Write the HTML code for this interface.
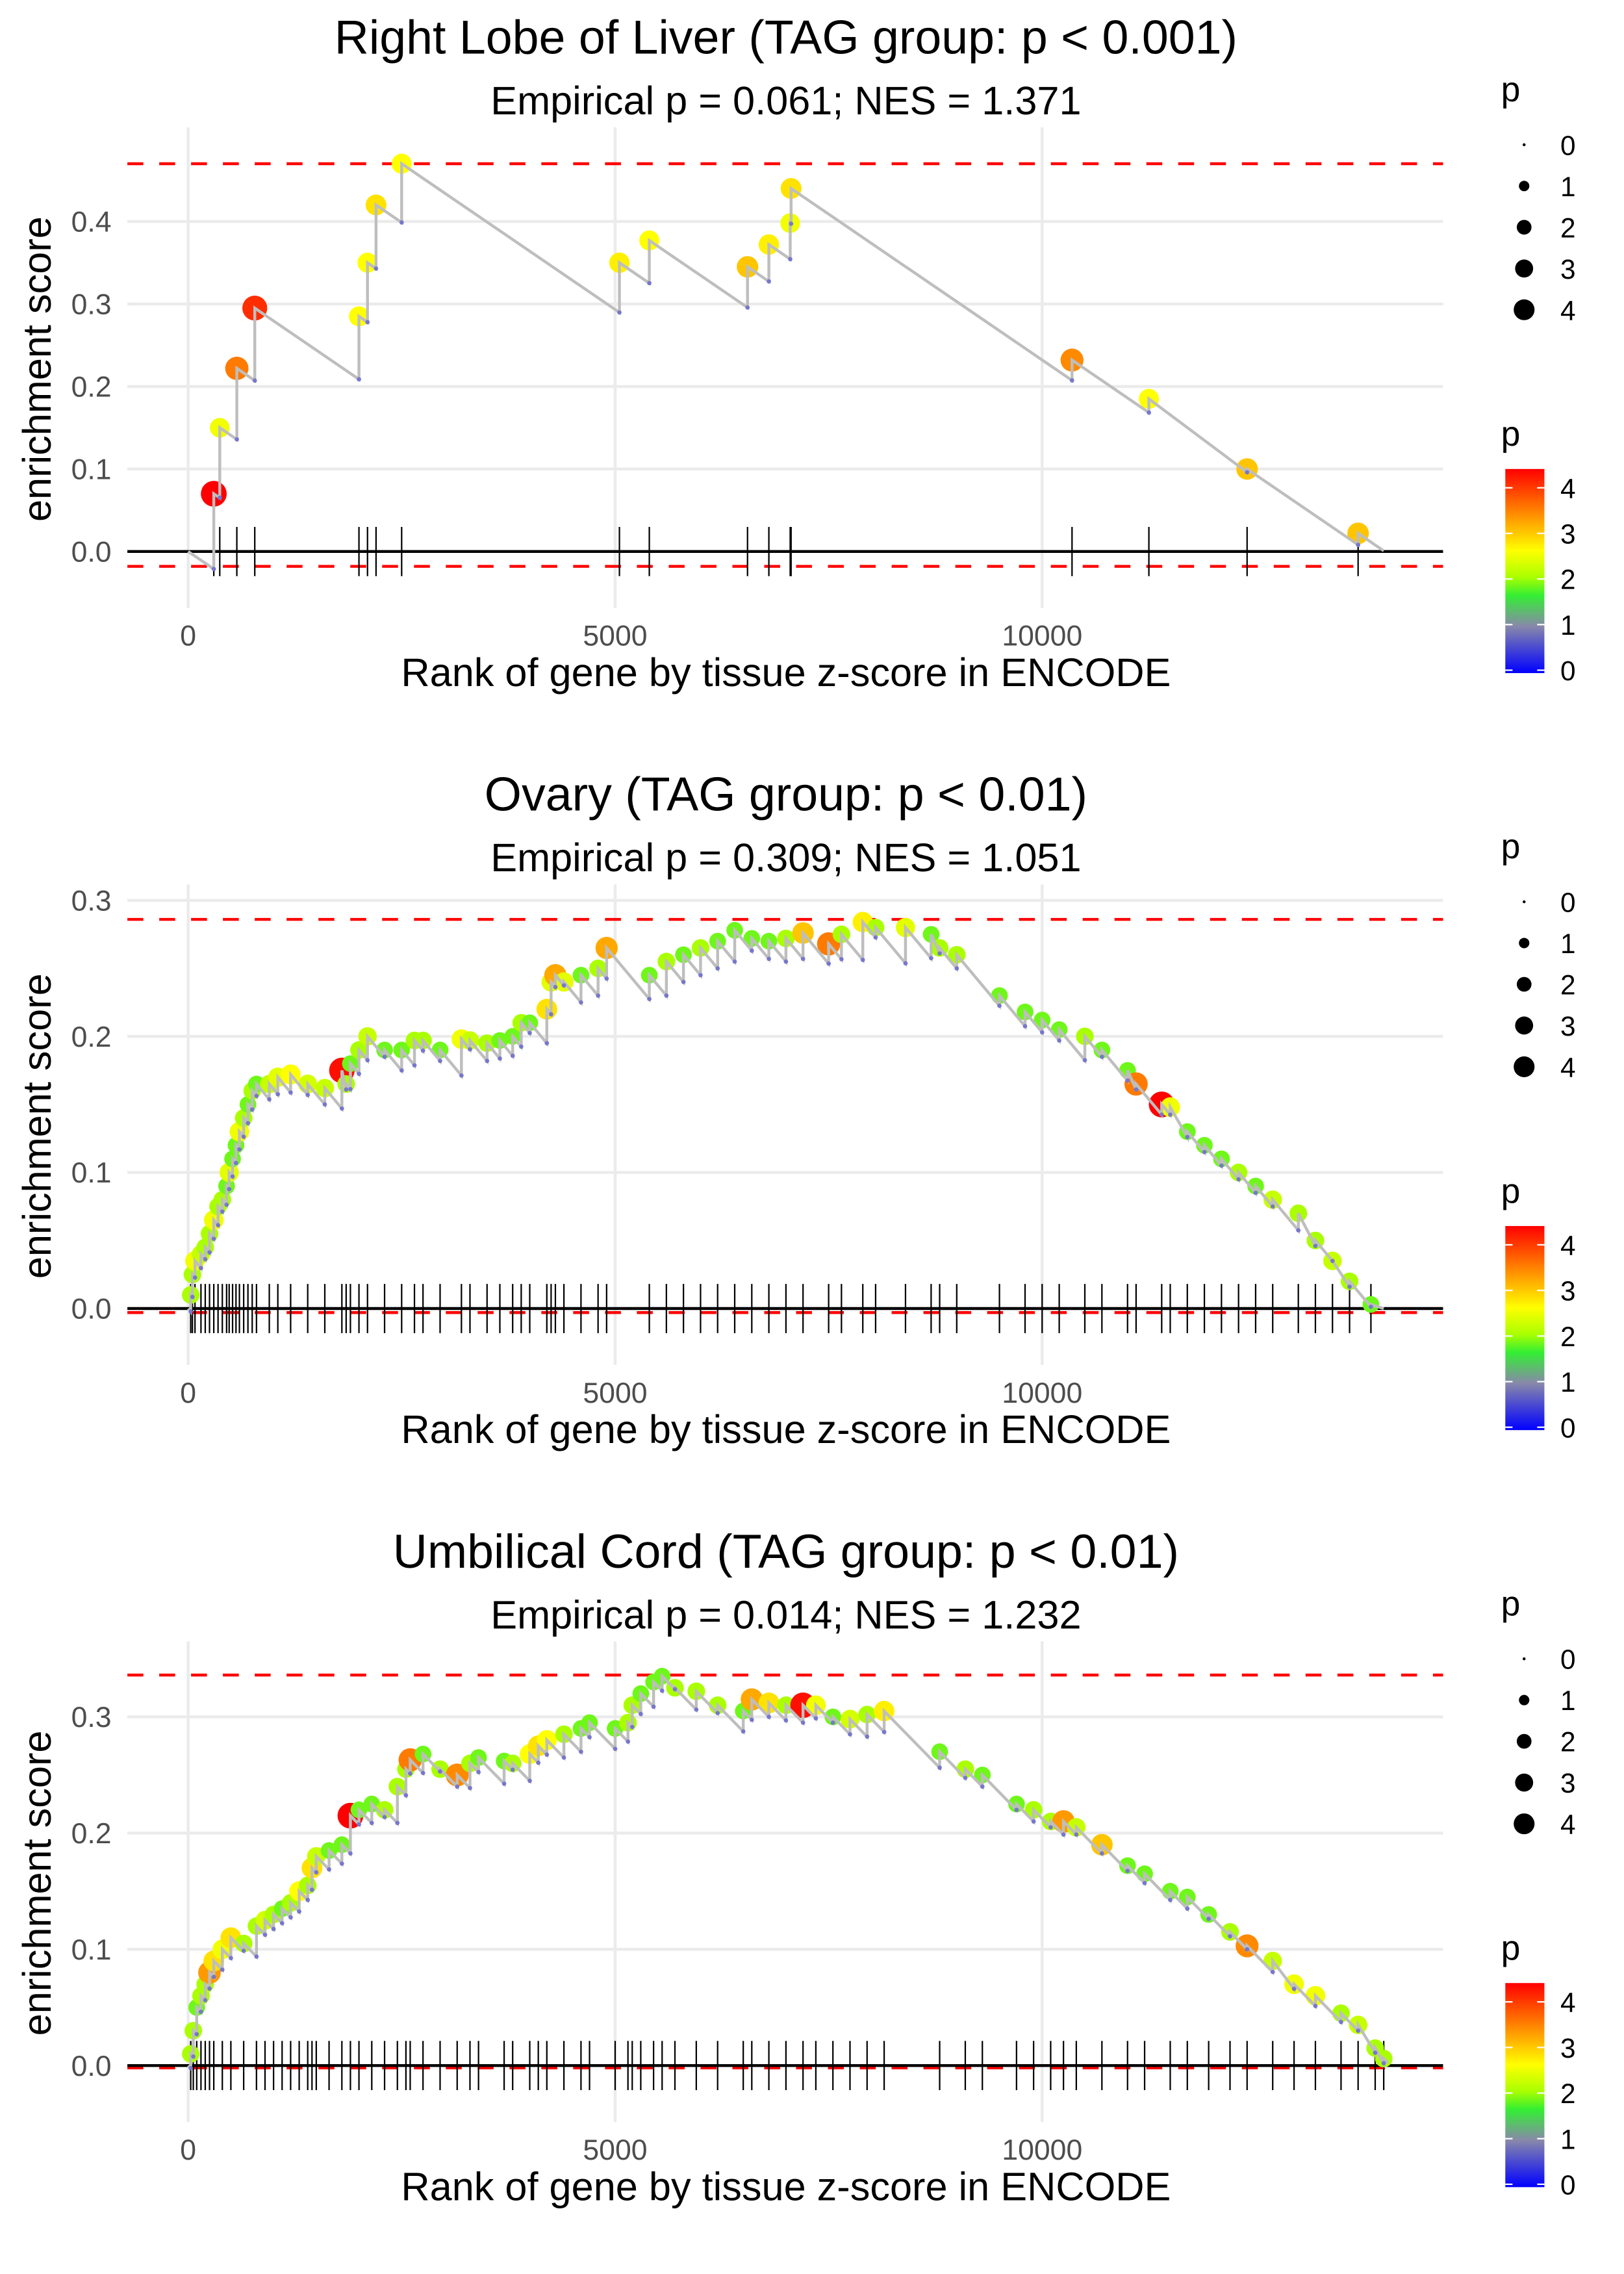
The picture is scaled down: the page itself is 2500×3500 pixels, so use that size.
<!DOCTYPE html>
<html><head><meta charset="utf-8">
<style>
html,body{margin:0;padding:0;background:#fff;}
svg{display:block;font-family:"Liberation Sans",Arial,sans-serif;}
</style></head>
<body>
<svg id="chart" width="2500" height="3500" viewBox="0 0 1122 1571" preserveAspectRatio="none" xmlns="http://www.w3.org/2000/svg">
<defs>
<linearGradient id="pgrad" x1="0" y1="1" x2="0" y2="0">
<stop offset="0" stop-color="#0000ff"/>
<stop offset="0.23" stop-color="#8888aa"/>
<stop offset="0.38" stop-color="#33ee33"/>
<stop offset="0.47" stop-color="#aaff00"/>
<stop offset="0.6" stop-color="#ffff00"/>
<stop offset="0.76" stop-color="#ff9900"/>
<stop offset="1" stop-color="#ff0000"/>
</linearGradient>
</defs>
</svg>
<script>
// ---- Panel 1 data ----
const ranks1 = [300,370,570,780,2000,2100,2200,2500,5050,5400,6550,6800,7050,7060,10350,11250,12400,13700];
const es1    = [0.07,0.15,0.222,0.295,0.285,0.35,0.42,0.47,0.35,0.377,0.345,0.372,0.398,0.44,0.232,0.185,0.1,0.022];
const p1     = [4.3,2.5,3.5,4.0,2.6,2.6,2.8,2.6,2.7,2.6,3.0,2.7,2.5,2.8,3.4,2.6,3.0,3.0];
const yTicks1 = [0,0.1,0.2,0.3,0.4];
// ---- Panel 2 data ----
const ranks2 = [30,50,80,150,200,250,300,350,400,450,480,520,560,600,650,700,750,800,950,1050,1200,1400,1600,1800,1850,1900,2000,2100,2300,2500,2650,2750,2950,3200,3300,3500,3650,3800,3900,4000,4200,4250,4300,4400,4600,4800,4900,5400,5600,5800,6000,6200,6400,6600,6800,7000,7200,7500,7650,7900,8050,8400,8700,8800,9000,9500,9800,10000,10200,10500,10700,11000,11100,11400,11500,11700,11900,12100,12300,12500,12700,13000,13200,13400,13600,13850];
const es2    = [0.01,0.025,0.035,0.04,0.045,0.055,0.065,0.075,0.08,0.09,0.1,0.11,0.12,0.13,0.14,0.15,0.16,0.165,0.165,0.17,0.172,0.165,0.162,0.175,0.165,0.18,0.19,0.2,0.19,0.19,0.197,0.197,0.19,0.198,0.197,0.195,0.197,0.2,0.21,0.21,0.22,0.24,0.245,0.24,0.245,0.25,0.265,0.245,0.255,0.26,0.265,0.27,0.278,0.272,0.27,0.272,0.276,0.268,0.275,0.284,0.28,0.28,0.275,0.265,0.26,0.23,0.218,0.212,0.205,0.2,0.19,0.175,0.165,0.15,0.148,0.13,0.12,0.11,0.1,0.09,0.08,0.07,0.05,0.035,0.02,0.003];
const p2     = [2,2,2.5,2.2,2,2,2.5,2,2,1.8,2.4,1.8,1.8,2.5,2,1.8,2,1.8,2.2,2.4,2.6,2.3,2.2,4.2,2,1.8,2,2.2,1.8,1.8,2,2,1.8,2.5,2.2,2,1.8,1.8,2,1.8,2.8,2.4,3.2,2.4,1.8,2,3.2,1.8,2,1.8,2,1.8,1.8,1.8,1.8,2,3,3.5,2,2.7,2,2.4,1.8,2,2,1.8,1.8,1.8,1.8,2,1.8,1.8,3.5,4.3,2.5,1.8,1.8,1.8,2,1.8,2.2,2,2,2.2,2,1.8];
const yTicks2 = [0,0.1,0.2,0.3];
// ---- Panel 3 data ----
const ranks3 = [30,60,100,150,200,250,300,400,500,650,800,900,1000,1100,1200,1300,1400,1450,1500,1650,1800,1900,2000,2150,2300,2450,2550,2600,2750,2950,3150,3300,3400,3700,3800,4000,4100,4200,4400,4600,4700,5000,5150,5200,5300,5450,5550,5700,5950,6200,6500,6600,6800,7000,7200,7350,7550,7750,7950,8150,8800,9100,9300,9700,9900,10100,10250,10400,10700,11000,11200,11500,11700,11950,12200,12400,12700,12950,13200,13500,13700,13900,14000];
const es3    = [0.01,0.03,0.05,0.06,0.07,0.08,0.09,0.1,0.11,0.105,0.12,0.125,0.13,0.135,0.14,0.15,0.155,0.17,0.18,0.185,0.19,0.215,0.22,0.225,0.22,0.24,0.255,0.263,0.268,0.255,0.25,0.26,0.265,0.262,0.26,0.268,0.275,0.28,0.285,0.29,0.295,0.29,0.295,0.31,0.32,0.33,0.335,0.325,0.322,0.31,0.305,0.315,0.312,0.31,0.31,0.31,0.3,0.298,0.302,0.305,0.27,0.255,0.25,0.225,0.22,0.21,0.21,0.205,0.19,0.172,0.165,0.15,0.145,0.13,0.115,0.103,0.09,0.07,0.06,0.045,0.035,0.015,0.006];
const p3     = [2,2,1.8,2,2,3.3,2.8,2.5,2.8,2,2,2.3,2,1.8,2,2.6,2,2.8,2.2,1.8,1.8,4.3,1.8,1.8,2,2,2,3.5,1.8,2,3.4,2,1.8,1.8,2,2.6,2.8,2.6,2,1.8,1.8,1.8,2,2,1.8,1.8,1.8,2,2,2,1.8,3.2,2.8,2,4.2,2.5,1.8,2.3,2,2.7,1.8,2,1.8,1.8,2,2,3.3,2.2,3,1.8,1.8,1.8,1.8,1.8,2,3.4,2.2,2.5,2.5,2,2.2,2,2];
const yTicks3 = [0,0.1,0.2,0.3];
const xTicks = [0,5000,10000];
const sizeLegend = [0,1,2,3,4];
const colorLegend = [0,1,2,3,4];

const NS = "http://www.w3.org/2000/svg";
const svg = document.getElementById('chart');
function mk(tag, attrs, parent, text){
  const e = document.createElementNS(NS, tag);
  for (const k in attrs) e.setAttribute(k, attrs[k]);
  if (text !== undefined) e.textContent = text;
  (parent||svg).appendChild(e);
  return e;
}
const stops = [[0,[0,0,255]],[1,[136,136,170]],[1.6,[51,238,51]],[2,[170,255,0]],[2.6,[255,255,0]],[3.3,[255,153,0]],[4.3,[255,0,0]]];
function pColor(p){
  if (p<=stops[0][0]) return 'rgb(0,0,255)';
  for (let i=1;i<stops.length;i++){
    if (p<=stops[i][0]){
      const a=stops[i-1], b=stops[i], t=(p-a[0])/(b[0]-a[0]);
      const c=a[1].map((v,j)=>Math.round(v+(b[1][j]-v)*t));
      return 'rgb('+c.join(',')+')';
    }
  }
  return 'rgb(255,0,0)';
}
function pRadius(p){ return Math.max(1, 4.3*Math.sqrt(p)); }

function panel(cfg){
  const off = cfg.off;
  const xs = r => 130 + r*0.059;
  const ys = v => cfg.y0 + off - v*cfg.k;
  const g = mk('g', {}, svg);
  
  
  const t = mk('text',{x:543,y:37+off,'text-anchor':'middle','font-size':33,fill:'#000'},g,cfg.title);
   
  const st = mk('text',{x:543,y:79+off,'text-anchor':'middle','font-size':27.5,fill:'#000'},g,cfg.sub);
   
  const top = 88+off, bot = cfg.bot+off;
  xTicks.forEach(v=>{
    const gl = mk('line',{x1:xs(v),x2:xs(v),y1:top,y2:bot,stroke:'#ebebeb','stroke-width':2},g);
     
    const tl = mk('text',{x:xs(v),y:bot+26,'text-anchor':'middle','font-size':20,fill:'#4d4d4d'},g,String(v));
     
  });
  cfg.yt.forEach(v=>{
    const gl = mk('line',{x1:88,x2:997,y1:ys(v),y2:ys(v),stroke:'#ebebeb','stroke-width':2},g);
     
    const tl = mk('text',{x:77,y:ys(v)+7,'text-anchor':'end','font-size':20,fill:'#4d4d4d'},g,v.toFixed(1));
     
  });
  const yt = mk('text',{x:0,y:0,'text-anchor':'middle','font-size':27.5,fill:'#000',transform:'translate(35,'+(cfg.ymid+off)+') rotate(-90)'},g,'enrichment score');
   
  const xt = mk('text',{x:543,y:bot+54,'text-anchor':'middle','font-size':27.5,fill:'#000'},g,'Rank of gene by tissue z-score in ENCODE');
   
  const dt = mk('line',{x1:88,x2:997,y1:ys(cfg.hi),y2:ys(cfg.hi),stroke:'#ff0000','stroke-width':2,'stroke-dasharray':'11,11'},g);
   
  const db = mk('line',{x1:88,x2:997,y1:ys(cfg.lo),y2:ys(cfg.lo),stroke:'#ff0000','stroke-width':2,'stroke-dasharray':'11,11'},g);
   
  const zl = mk('line',{x1:88,x2:997,y1:ys(0),y2:ys(0),stroke:'#000','stroke-width':2},g);
   
  cfg.r.forEach(r=>{
    const tk = mk('line',{x1:xs(r),x2:xs(r),y1:ys(0)-17,y2:ys(0)+17,stroke:'#000','stroke-width':1},g);
     
  });
  const d = cfg.d;
  let prevR = 0, prevE = 0, pts = [[xs(0),ys(0)]], troughs=[];
  cfg.r.forEach((r,i)=>{
    let tr = prevE - d*(r-prevR);
    if (tr > cfg.e[i]) tr = cfg.e[i]-0.004;
    pts.push([xs(r),ys(tr)]); troughs.push([xs(r),ys(tr)]);
    pts.push([xs(r),ys(cfg.e[i])]);
    prevR = r; prevE = cfg.e[i];
  });
  pts.push([xs(cfg.end), ys(Math.max(0, prevE - d*(cfg.end-prevR)))]);
  cfg.r.forEach((r,i)=>{
    const c = mk('circle',{cx:xs(r),cy:ys(cfg.e[i]),r:pRadius(cfg.p[i]),fill:pColor(cfg.p[i])},g);
     
  });
  const line = mk('polyline',{points:pts.map(p=>p.join(',')).join(' '),fill:'none',stroke:'#bebebe','stroke-width':2},g);
   
  troughs.forEach(p=>{
    const c = mk('circle',{cx:p[0],cy:p[1],r:1.5,fill:'#7777cc'},g);
     
  });
  const lp = mk('text',{x:1037,y:70+off,'font-size':24,fill:'#000'},g,'p');
   
  sizeLegend.forEach((v,i)=>{
    const cy = 100+off+i*28.5;
    const c = mk('circle',{cx:1053,cy:cy,r:Math.max(1,3.6*Math.sqrt(v)),fill:'#000'},g);
     
    const tl = mk('text',{x:1078,y:cy+7,'font-size':19,fill:'#000'},g,String(v));
     
  });
  const cp = mk('text',{x:1037,y:308+off,'font-size':24,fill:'#000'},g,'p');
   
  const bar = mk('rect',{x:1040,y:324+off,width:27,height:141,fill:'url(#pgrad)'},g);
   
  colorLegend.forEach(v=>{
    const cy = 463+off - v*31.5;
    mk('line',{x1:1040,x2:1045,y1:cy,y2:cy,stroke:'#fff','stroke-width':1},g);
    mk('line',{x1:1062,x2:1067,y1:cy,y2:cy,stroke:'#fff','stroke-width':1},g);
    const tl = mk('text',{x:1078,y:cy+7,'font-size':19,fill:'#000'},g,String(v));
     
  });
}

panel({name:'panel-right-lobe-liver',off:0,title:'Right Lobe of Liver (TAG group: p < 0.001)',sub:'Empirical p = 0.061; NES = 1.371',
  y0:381,k:570,bot:420,ymid:255,hi:0.47,lo:-0.018,yt:yTicks1,r:ranks1,e:es1,p:p1,d:7.07e-5,end:14000});
panel({name:'panel-ovary',off:523,title:'Ovary (TAG group: p < 0.01)',sub:'Empirical p = 0.309; NES = 1.051',
  y0:381,k:940,bot:420,ymid:255,hi:0.286,lo:-0.003,yt:yTicks2,r:ranks2,e:es2,p:p2,d:7.5e-5,end:14000});
panel({name:'panel-umbilical-cord',off:1046,title:'Umbilical Cord (TAG group: p < 0.01)',sub:'Empirical p = 0.014; NES = 1.232',
  y0:381,k:803,bot:420,ymid:255,hi:0.336,lo:-0.002,yt:yTicks3,r:ranks3,e:es3,p:p3,d:7.5e-5,end:14050});
</script>
</body></html>
